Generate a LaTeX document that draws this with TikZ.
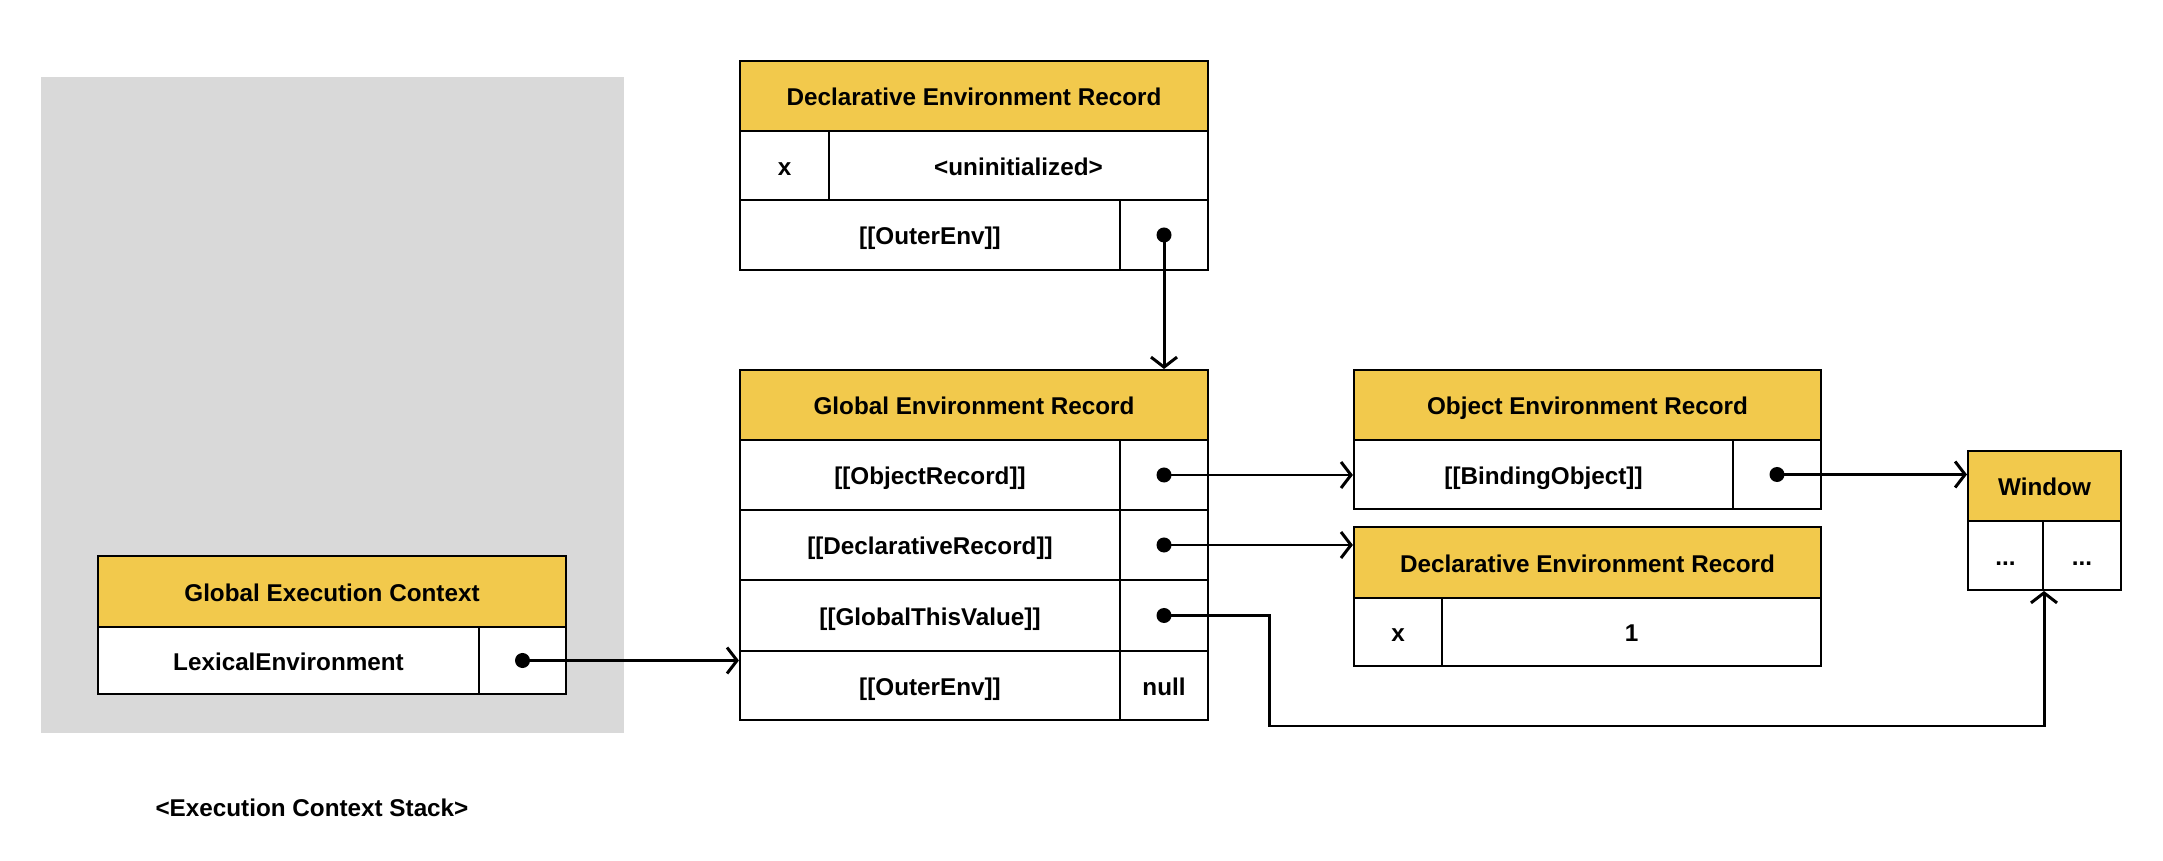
\documentclass[tikz,border=0pt]{standalone}
\usepackage{fontspec}
\setmainfont{Liberation Sans}
\usetikzlibrary{arrows.meta}
\definecolor{hdr}{HTML}{F2C94C}
\definecolor{stackgray}{HTML}{D9D9D9}
\begin{document}
\begin{tikzpicture}[x=0.01cm,y=-0.01cm,
  cell/.style={draw=black, line width=0.55pt, inner sep=0pt, fill=white,
    text height=1.4ex, text depth=0.35ex,
    font=\fontsize{6.9}{8}\selectfont\bfseries},
  hdrcell/.style={cell, fill=hdr},
  conn/.style={line width=0.85pt, -{Straight Barb[length=0.1cm,width=0.26cm,line width=0.85pt]}},
  lbl/.style={font=\fontsize{6.9}{8}\selectfont\bfseries, inner sep=0pt}]
\useasboundingbox (0,0) rectangle (2163,861);
% stack background
\fill[stackgray] (41,77) rectangle (624,733);
\node[lbl] (stacklbl) at (312,808) {<Execution Context Stack>};

% Global Execution Context
\node[hdrcell, minimum width=4.68cm, minimum height=0.71cm] (gech) at (332,591.5) {Global Execution Context};
\node[cell, minimum width=3.81cm, minimum height=0.67cm] (geck) at (288.5,660.5) {LexicalEnvironment};
\node[cell, minimum width=0.87cm, minimum height=0.67cm] (gecp) at (522.5,660.5) {};

% top Declarative Environment Record
\node[hdrcell, minimum width=4.68cm, minimum height=0.70cm] (tdh) at (974,96) {Declarative Environment Record};
\node[cell, minimum width=0.89cm, minimum height=0.69cm] (tdk) at (784.5,165.5) {x};
\node[cell, minimum width=3.79cm, minimum height=0.69cm] (tdv) at (1018.5,165.5) {<uninitialized>};
\node[cell, minimum width=3.80cm, minimum height=0.70cm] (tdo) at (930,235) {[[OuterEnv]]};
\node[cell, minimum width=0.88cm, minimum height=0.70cm] (tdp) at (1164,235) {};

% Global Environment Record
\node[hdrcell, minimum width=4.68cm, minimum height=0.70cm] (geh) at (974,405) {Global Environment Record};
\node[cell, minimum width=3.80cm, minimum height=0.70cm] (g1k) at (930,475) {[[ObjectRecord]]};
\node[cell, minimum width=0.88cm, minimum height=0.70cm] (g1p) at (1164,475) {};
\node[cell, minimum width=3.80cm, minimum height=0.70cm] (g2k) at (930,545) {[[DeclarativeRecord]]};
\node[cell, minimum width=0.88cm, minimum height=0.70cm] (g2p) at (1164,545) {};
\node[cell, minimum width=3.80cm, minimum height=0.71cm] (g3k) at (930,615.5) {[[GlobalThisValue]]};
\node[cell, minimum width=0.88cm, minimum height=0.71cm] (g3p) at (1164,615.5) {};
\node[cell, minimum width=3.80cm, minimum height=0.69cm] (g4k) at (930,685.5) {[[OuterEnv]]};
\node[cell, minimum width=0.88cm, minimum height=0.69cm] (g4p) at (1164,685.5) {null};

% Object Environment Record
\node[hdrcell, minimum width=4.67cm, minimum height=0.70cm] (oeh) at (1587.5,405) {Object Environment Record};
\node[cell, minimum width=3.79cm, minimum height=0.69cm] (oek) at (1543.5,474.5) {[[BindingObject]]};
\node[cell, minimum width=0.88cm, minimum height=0.69cm] (oep) at (1777,474.5) {};

% second Declarative Environment Record
\node[hdrcell, minimum width=4.67cm, minimum height=0.71cm] (deh) at (1587.5,562.5) {Declarative Environment Record};
\node[cell, minimum width=0.88cm, minimum height=0.68cm] (dek) at (1398,632) {x};
\node[cell, minimum width=3.79cm, minimum height=0.68cm] (dev) at (1631.5,632) {1};

% Window
\node[hdrcell, minimum width=1.53cm, minimum height=0.70cm] (wh) at (2044.5,486) {Window};
\node[cell, minimum width=0.75cm, minimum height=0.69cm] (w1) at (2005.5,555.5) {...};
\node[cell, minimum width=0.78cm, minimum height=0.69cm] (w2) at (2082,555.5) {...};

% connectors
\coordinate (bend) at (1269,726);
\draw[conn] (tdp.center) -- (tdp.center |- geh.north);
\draw[conn] (gecp.center) -- (gecp.center -| g4k.west);
\draw[conn] (g1p.center) -- (g1p.center -| oek.west);
\draw[conn] (g2p.center) -- (g2p.center -| deh.west);
\draw[conn] (oep.center) -- (oep.center -| wh.west);
\draw[conn] (g3p.center) -| (bend) -| (w1.south east);

% dots
\foreach \p in {gecp,tdp,g1p,g2p,g3p,oep}
  \fill (\p.center) circle[radius=0.075cm];
\end{tikzpicture}
\end{document}
